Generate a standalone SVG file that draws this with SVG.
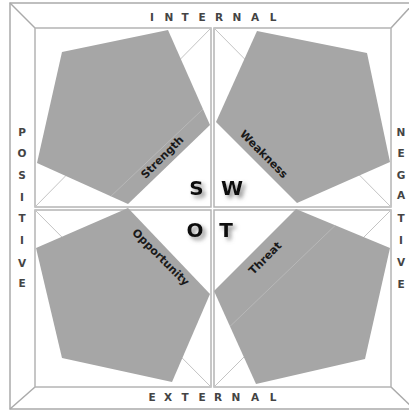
<svg xmlns="http://www.w3.org/2000/svg" width="409" height="411" viewBox="0 0 409 411">
<style>
.frame{fill:none;stroke:#aaaaaa;stroke-width:1.5}
.quad{fill:#ffffff;stroke:#b4b4b4;stroke-width:1.5}
.diag{stroke:#c4c4c4;stroke-width:1;fill:none}
.pent{fill:#a6a6a6}
.faint{stroke:#b8b8b8;stroke-width:1;fill:none}
.side{font-family:"DejaVu Sans",Verdana,sans-serif;font-weight:bold;font-size:10.5px;fill:#444444;text-anchor:middle}
.lab{font-family:"DejaVu Sans",Verdana,sans-serif;font-weight:bold;font-size:11px;fill:#1a1a1a;text-anchor:middle}
.big{font-family:"DejaVu Sans",Verdana,sans-serif;font-weight:bold;font-size:20px;fill:#111111;text-anchor:middle}
</style>
<defs>
<filter id="sh" x="-50%" y="-50%" width="200%" height="200%">
<feDropShadow dx="3" dy="3" stdDeviation="2" flood-color="#777777" flood-opacity="0.8"/>
</filter>
<clipPath id="cS"><polygon points="62,52 168,30 210,125 128,204 37,163"/></clipPath>
<clipPath id="cT"><polygon points="296,209 390,248 365,359 256,384 214,291"/></clipPath>
</defs>
<rect width="409" height="411" fill="#ffffff"/>
<g id="frame">
<rect class="frame" x="10" y="3" width="404" height="406"/>
<line class="frame" x1="10" y1="3" x2="35" y2="28"/>
<line class="frame" x1="414" y1="3" x2="391" y2="28"/>
<line class="frame" x1="10" y1="409" x2="35" y2="387"/>
<line class="frame" x1="414" y1="409" x2="391" y2="387"/>
<rect class="quad" x="35" y="28" width="176" height="179"/>
<rect class="quad" x="214" y="28" width="177" height="179"/>
<rect class="quad" x="35" y="210" width="176" height="177"/>
<rect class="quad" x="214" y="210" width="177" height="177"/>
</g>
<g id="connectors">
<line class="diag" x1="35" y1="207" x2="211" y2="28"/>
<line class="diag" x1="214" y1="28" x2="391" y2="207"/>
<line class="diag" x1="35" y1="210" x2="211" y2="387"/>
<line class="diag" x1="214" y1="387" x2="391" y2="210"/>
</g>
<g id="strength">
<polygon class="pent" points="62,52 168,30 210,125 128,204 37,163"/>
<line class="faint" clip-path="url(#cS)" x1="90" y1="216" x2="220" y2="93"/>
<text class="lab" transform="translate(162,157) rotate(-45)" y="4">Strength</text>
</g>
<g id="weakness">
<polygon class="pent" points="257,31 367,53 390,162 297,203 216,122"/>
<text class="lab" transform="translate(264,154) rotate(45)" y="4">Weakness</text>
</g>
<g id="opportunity">
<polygon class="pent" points="128,208 210,294 172,382 62,358 36,248"/>
<text class="lab" transform="translate(161,257) rotate(45)" y="4">Opportunity</text>
</g>
<g id="threat">
<polygon class="pent" points="296,209 390,248 365,359 256,384 214,291"/>
<line class="faint" clip-path="url(#cT)" x1="220" y1="336" x2="345" y2="216"/>
<text class="lab" transform="translate(265,258) rotate(-45)" y="4">Threat</text>
</g>
<g id="swot" filter="url(#sh)">
<text class="big" x="196.5" y="195">S</text>
<text class="big" x="232" y="195">W</text>
<text class="big" x="195" y="237">O</text>
<text class="big" x="226" y="237">T</text>
</g>
<g id="labels">
<text class="side" x="152 169 185 202 219 237 255 273" y="20.5">INTERNAL</text>
<text class="side" x="152 168 185 202 218 236 255 273" y="401">EXTERNAL</text>
<text class="side" x="22 22 22 22 22 22 22 22" y="136 157 179 201 222 244 267 287">POSITIVE</text>
<text class="side" x="401 401 401 401 401 401 401 401" y="136 157 179 199 222 244 266 288">NEGATIVE</text>
</g>
</svg>
